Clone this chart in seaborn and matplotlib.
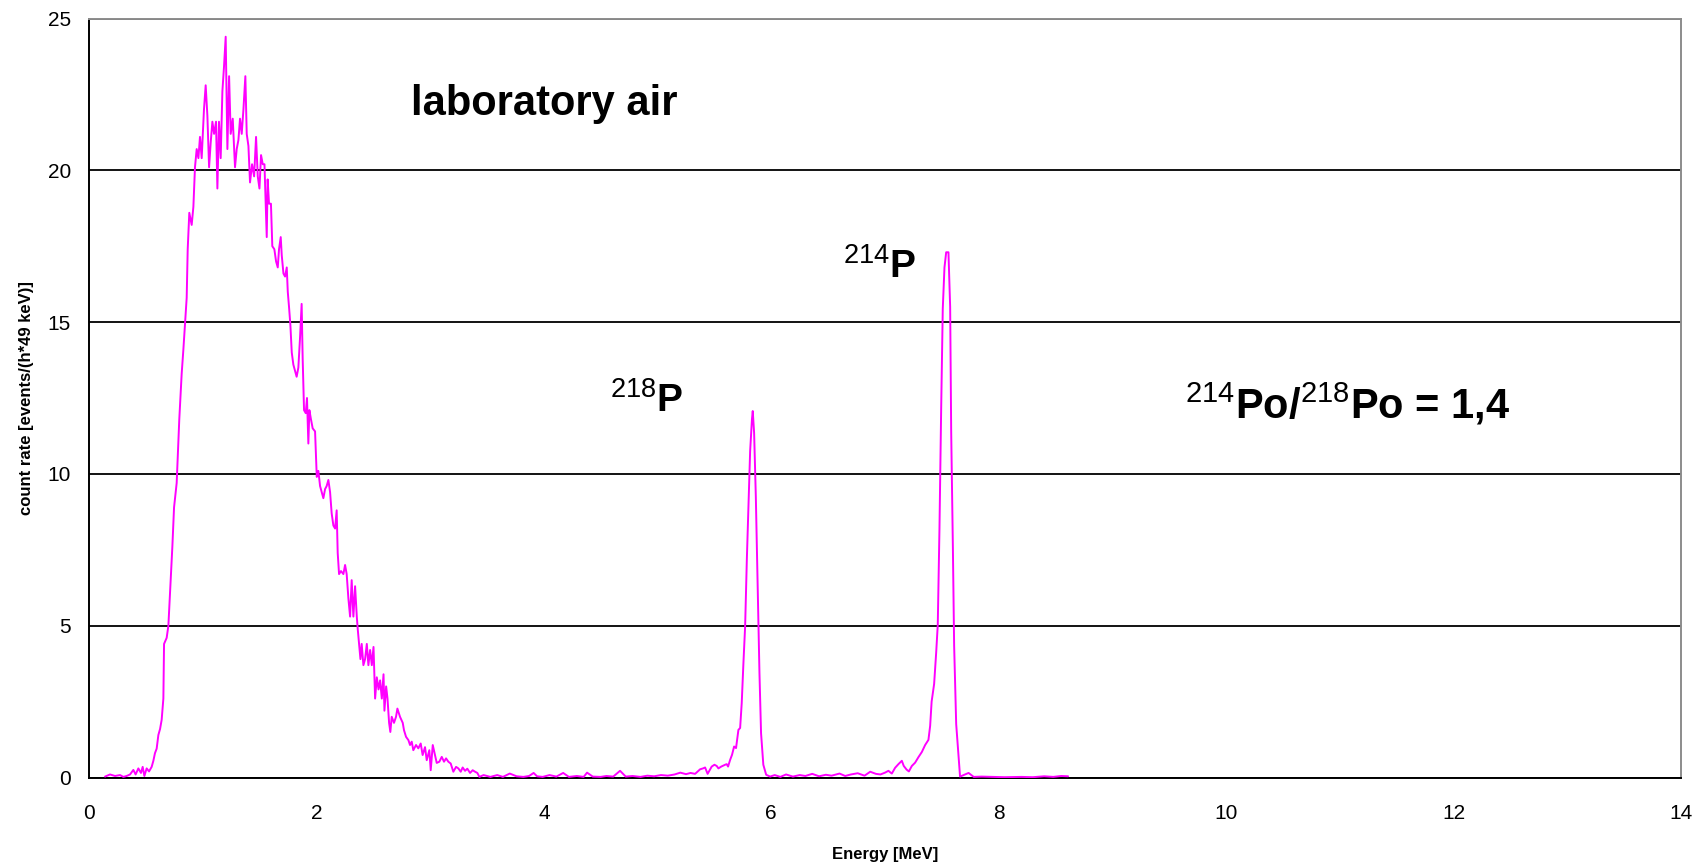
import matplotlib
matplotlib.use("Agg")
import matplotlib.pyplot as plt
from matplotlib import font_manager
import seaborn as sns
import pandas as pd

# ---------------- data ----------------
energy_mev = [
    0.141, 0.185, 0.229, 0.273, 0.302, 0.331, 0.361, 0.390, 0.410, 0.434,
    0.457, 0.472, 0.487, 0.507, 0.528, 0.551, 0.566, 0.580, 0.595, 0.610,
    0.625, 0.639, 0.654,
    0.660, 0.683, 0.698, 0.718, 0.733, 0.748, 0.771, 0.794, 0.815, 0.830,
    0.847, 0.859, 0.868, 0.882, 0.903, 0.918, 0.932, 0.947, 0.962, 0.976,
    0.991, 1.011, 1.026, 1.041, 1.056, 1.070, 1.085, 1.100, 1.117, 1.129,
    1.143, 1.158, 1.173, 1.187, 1.202, 1.217, 1.232, 1.246, 1.264, 1.284,
    1.299, 1.314, 1.328, 1.343, 1.358, 1.375, 1.387, 1.402, 1.416, 1.434,
    1.452, 1.469, 1.484, 1.499, 1.513, 1.528, 1.543,
    1.563, 1.571, 1.583, 1.600, 1.612, 1.630, 1.645, 1.660, 1.671, 1.686,
    1.695, 1.710, 1.724, 1.739, 1.748, 1.759, 1.771, 1.783, 1.797, 1.812,
    1.826, 1.841, 1.856, 1.870, 1.879, 1.891, 1.906, 1.917, 1.929, 1.938,
    1.952, 1.967, 1.988, 2.003, 2.017, 2.032, 2.046, 2.061, 2.076, 2.090,
    2.105, 2.120, 2.134, 2.149, 2.164, 2.178, 2.187, 2.199, 2.216, 2.237,
    2.252, 2.266, 2.281, 2.296, 2.310, 2.325, 2.340, 2.355, 2.363, 2.375,
    2.387, 2.398, 2.413, 2.428, 2.443, 2.457, 2.472, 2.487, 2.502, 2.516,
    2.531, 2.546, 2.560, 2.575, 2.590, 2.598, 2.613, 2.625, 2.639, 2.650,
    2.662, 2.682, 2.700, 2.712, 2.735, 2.759, 2.770, 2.788, 2.809, 2.823,
    2.838, 2.852, 2.876, 2.896, 2.917, 2.934, 2.955, 2.970, 2.993, 3.005,
    3.023, 3.043, 3.058, 3.081, 3.102, 3.122, 3.140, 3.160, 3.181, 3.204,
    3.228, 3.248, 3.269, 3.286, 3.307, 3.327, 3.351, 3.374, 3.395, 3.415,
    3.433, 3.47, 3.53, 3.59, 3.64, 3.70, 3.76, 3.82, 3.87, 3.91,
    3.94, 3.99, 4.05, 4.11, 4.17, 4.22, 4.29, 4.35, 4.38, 4.43,
    4.50, 4.55, 4.61, 4.67, 4.72, 4.78, 4.85, 4.91, 4.97, 5.03,
    5.09, 5.15, 5.20, 5.25, 5.29, 5.33, 5.374, 5.40, 5.418, 5.44,
    5.476, 5.50, 5.52, 5.535, 5.56, 5.594, 5.608, 5.62, 5.638, 5.655,
    5.673, 5.69, 5.711, 5.726, 5.740, 5.755, 5.770, 5.785, 5.800, 5.814,
    5.830, 5.837, 5.849, 5.864, 5.881, 5.896, 5.910, 5.930, 5.955, 5.99,
    6.03, 6.08, 6.13, 6.19, 6.25, 6.30, 6.36, 6.42, 6.48, 6.53,
    6.60, 6.65, 6.70, 6.76, 6.82, 6.87, 6.92, 6.96, 7.00, 7.03,
    7.06, 7.089, 7.118, 7.148, 7.165, 7.19, 7.21, 7.236, 7.265, 7.294,
    7.324, 7.353, 7.382, 7.397, 7.410, 7.432, 7.450, 7.464, 7.479, 7.494,
    7.508, 7.523, 7.538, 7.558, 7.573, 7.582, 7.597, 7.608, 7.626, 7.647,
    7.660, 7.705, 7.735, 7.78, 7.85, 7.94, 8.05, 8.20, 8.30, 8.40,
    8.48, 8.55, 8.61,
]

count_rate = [
    0.03, 0.10, 0.05, 0.08, 0.02, 0.05, 0.10, 0.25, 0.10, 0.30,
    0.15, 0.35, 0.05, 0.30, 0.20, 0.35, 0.55, 0.80, 0.95, 1.40,
    1.60, 1.90, 2.60,
    4.4, 4.6, 5.0, 6.5, 7.6, 8.9, 9.7, 11.8, 13.3, 14.1,
    15.1, 15.8, 17.4, 18.6, 18.2, 18.8, 20.1, 20.7, 20.4, 21.1,
    20.4, 22.0, 22.8, 21.8, 20.1, 20.9, 21.6, 21.2, 21.6, 19.4,
    21.6, 20.4, 22.6, 23.4, 24.4, 20.7, 23.1, 21.2, 21.7, 20.1,
    20.7, 21.0, 21.7, 21.2, 22.0, 23.1, 21.2, 20.8, 19.6, 20.2,
    19.8, 21.1, 19.8, 19.4, 20.5, 20.2, 20.2,
    17.8, 19.7, 18.9, 18.9, 17.5, 17.4, 17.0, 16.8, 17.4, 17.8,
    17.2, 16.6, 16.5, 16.8, 16.0, 15.5, 14.9, 14.0, 13.6, 13.4,
    13.2, 13.5, 14.5, 15.6, 13.8, 12.1, 12.0, 12.5, 11.0, 12.1,
    11.8, 11.5, 11.4, 9.9, 10.1, 9.6, 9.4, 9.2, 9.5, 9.6,
    9.8, 9.4, 8.7, 8.3, 8.2, 8.8, 7.4, 6.7, 6.8, 6.7,
    7.0, 6.7, 5.9, 5.3, 6.5, 5.3, 6.3, 5.3, 4.9, 4.4,
    3.9, 4.4, 3.7, 3.9, 4.4, 3.7, 4.2, 3.7, 4.3, 2.6,
    3.3, 2.9, 3.2, 2.6, 3.4, 2.2, 3.0, 2.6, 1.8, 1.5,
    2.0, 1.8, 2.0, 2.27, 2.0, 1.8, 1.56, 1.34, 1.23, 1.07,
    1.18, 0.90, 1.07, 0.96, 1.12, 0.74, 1.00, 0.57, 0.90, 0.24,
    1.07, 0.74, 0.48, 0.52, 0.68, 0.52, 0.63, 0.52, 0.46, 0.19,
    0.35, 0.30, 0.19, 0.33, 0.22, 0.29, 0.15, 0.24, 0.19, 0.15,
    0.02, 0.08, 0.02, 0.08, 0.02, 0.13, 0.04, 0.02, 0.05, 0.15,
    0.04, 0.02, 0.08, 0.03, 0.15, 0.02, 0.05, 0.02, 0.16, 0.03,
    0.02, 0.05, 0.03, 0.22, 0.03, 0.05, 0.02, 0.06, 0.04, 0.08,
    0.06, 0.10, 0.16, 0.11, 0.15, 0.12, 0.27, 0.30, 0.33, 0.12,
    0.36, 0.42, 0.38, 0.30, 0.36, 0.42, 0.44, 0.36, 0.58, 0.75,
    1.02, 0.97, 1.57, 1.63, 2.45, 3.77, 4.98, 7.18, 9.04, 10.75,
    11.8, 12.07, 11.35, 9.26, 6.19, 3.44, 1.46, 0.42, 0.09, 0.03,
    0.08, 0.02, 0.10, 0.03, 0.08, 0.05, 0.12, 0.04, 0.09, 0.06,
    0.13, 0.05, 0.10, 0.14, 0.06, 0.19, 0.12, 0.10, 0.16, 0.22,
    0.13, 0.32, 0.44, 0.55, 0.38, 0.26, 0.20, 0.38, 0.49, 0.67,
    0.84, 1.07, 1.24, 1.70, 2.50, 3.08, 4.11, 5.03, 8.20, 12.16,
    15.44, 16.8, 17.3, 17.3, 15.5, 11.4, 7.56, 4.34, 1.76, 0.67,
    0.03, 0.10, 0.15, 0.02, 0.03, 0.02, 0.01, 0.02, 0.01, 0.04,
    0.02, 0.05, 0.04,
]

x_ticks = [0, 2, 4, 6, 8, 10, 12, 14]
y_ticks = [0, 5, 10, 15, 20, 25]
x_label = "Energy [MeV]"
y_label = "count rate [events/(h*49 keV)]"
title_text = "laboratory air"
label_218 = r"$^{218}$P"
label_214 = r"$^{214}$P"
ratio_text = r"$^{214}$Po/$^{218}$Po = 1,4"

# ---------------- styling ----------------
sns.set_theme(style="white")
available = {f.name for f in font_manager.fontManager.ttflist}
main_font = "Liberation Sans" if "Liberation Sans" in available else "DejaVu Sans"
narrow_font = "Liberation Sans Narrow" if "Liberation Sans Narrow" in available else main_font
plt.rcParams["font.family"] = [main_font, "DejaVu Sans"]
plt.rcParams["text.color"] = "black"
plt.rcParams["axes.labelcolor"] = "black"
plt.rcParams["mathtext.fontset"] = "custom"
plt.rcParams["mathtext.rm"] = main_font
plt.rcParams["mathtext.it"] = main_font + ":italic"
plt.rcParams["mathtext.bf"] = main_font + ":bold"

fig = plt.figure(figsize=(17.05, 8.65), dpi=100)
ax = fig.add_axes([89 / 1705, 1 - 777.5 / 865, (1681 - 89) / 1705, (777.5 - 18.5) / 865])

df = pd.DataFrame({"energy": energy_mev, "rate": count_rate})
sns.lineplot(data=df, x="energy", y="rate", ax=ax, color="#FF00FF",
             linewidth=1.4, estimator=None, sort=False, zorder=3)

ax.set_xlim(0, 14)
ax.set_ylim(0, 25)
ax.set_xticks(x_ticks)
ax.set_yticks(y_ticks)
ax.set_xticklabels([str(t) for t in x_ticks], fontfamily=narrow_font, fontsize=15)
ax.set_yticklabels([str(t) for t in y_ticks], fontfamily=narrow_font, fontsize=15)
ax.tick_params(axis="both", direction="out", length=7, width=1.3, color="black",
               labelcolor="black", pad=6)
ax.tick_params(axis="x", pad=12)

ax.yaxis.grid(True, color="black", linewidth=1.3, zorder=1)
ax.xaxis.grid(False)
for side in ["left", "bottom"]:
    ax.spines[side].set_color("black")
    ax.spines[side].set_linewidth(1.4)
for side in ["top", "right"]:
    ax.spines[side].set_color("#8c8c8c")
    ax.spines[side].set_linewidth(1.4)
ax.set_axisbelow(True)

ax.set_xlabel(x_label, fontsize=12, fontweight="bold", labelpad=17, color="black")
ax.set_ylabel(y_label, fontsize=12, fontweight="bold", labelpad=10, color="black")

ax.text(2.83, 22.2, title_text, fontsize=30, fontweight="bold", ha="left", va="center", color="black")
ax.text(4.58, 12.4, label_218, fontsize=28, fontweight="bold", ha="left", va="center", color="black")
ax.text(6.63, 16.8, label_214, fontsize=28, fontweight="bold", ha="left", va="center", color="black")
ax.text(9.64, 12.3, ratio_text, fontsize=30, fontweight="bold", ha="left", va="center", color="black")

fig.savefig("out.png", dpi=100, facecolor="white")
